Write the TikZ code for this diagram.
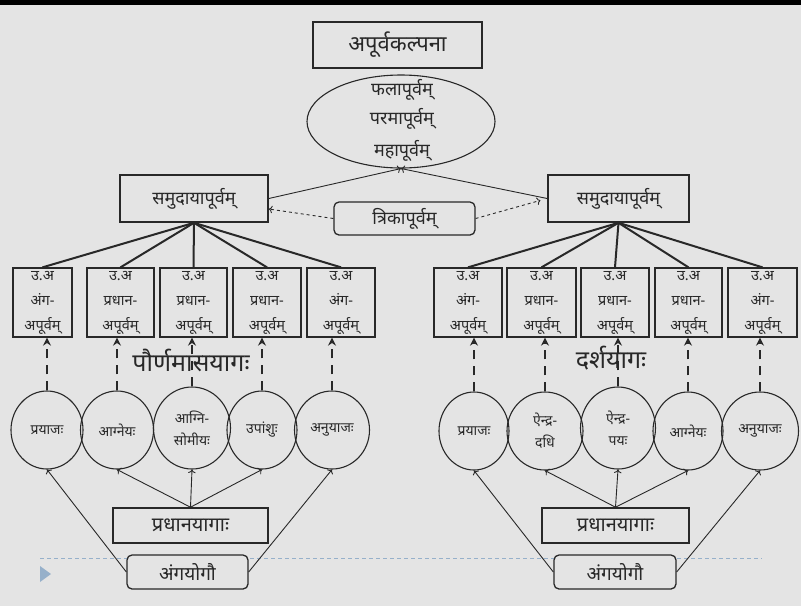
\documentclass[tikz,border=0pt]{standalone}
\usepackage{fontspec}
\setmainfont{Noto Sans}[Script=Devanagari]
\usetikzlibrary{shapes.geometric,arrows.meta}

\definecolor{slide}{RGB}{228,228,228}
\definecolor{ink}{RGB}{40,40,40}
\definecolor{rule}{RGB}{150,176,202}

\begin{document}
\begin{tikzpicture}[x=1pt,y=-1pt,
  box/.style={draw=ink,line width=1.6pt,fill=slide,inner sep=0pt,text=ink,font=\fontsize{18}{20}\selectfont},
  ubox/.style={draw=ink,line width=1.3pt,fill=slide,inner sep=0pt,minimum height=69pt,text=ink,align=center,font=\fontsize{14.5}{25}\selectfont},
  yaga/.style={draw=ink,line width=1.1pt,ellipse,inner sep=0pt,minimum height=78pt,text=ink,align=center,font=\fontsize{14}{22}\selectfont},
  trunk/.style={draw=ink,line width=2pt},
  dasharrow/.style={draw=ink,line width=2.4pt,dash pattern=on 9pt off 7pt,-{Stealth[length=8pt,width=8pt]}},
  thin/.style={draw=ink,line width=0.9pt,->},
  title/.style={text=ink,font=\fontsize{25}{28}\selectfont}
]
\useasboundingbox (0,0) rectangle (801,606);
\fill[slide] (0,0) rectangle (801,606);
\fill[black] (0,0) rectangle (801,5);

% slide rule and marker
\draw[rule,line width=0.8pt,dash pattern=on 4pt off 3pt] (40,558) -- (762,558);
\fill[rule] (40,566) -- (51,574) -- (40,582) -- cycle;

% top
\node[box,minimum width=169pt,minimum height=46pt,font=\fontsize{22}{24}\selectfont] (kalpana) at (397.5,45) {अपूर्वकल्पना};
\node[draw=ink,line width=1.1pt,ellipse,minimum width=188pt,minimum height=93pt,inner sep=0pt] (phala) at (401,121.5) {};
\node[text=ink,font=\fontsize{18}{20}\selectfont] (t1) at (402,90) {फलापूर्वम्};
\node[text=ink,font=\fontsize{18}{20}\selectfont] (t2) at (402,119) {परमापूर्वम्};
\node[text=ink,font=\fontsize{18}{20}\selectfont] (t3) at (402,151) {महापूर्वम्};

\node[box,minimum width=148pt,minimum height=47pt] (lsam) at (194,198.5) {समुदायापूर्वम्};
\node[box,minimum width=141pt,minimum height=47pt] (rsam) at (618.5,198.5) {समुदायापूर्वम्};
\node[box,rounded corners=5pt,line width=1.3pt,minimum width=141pt,minimum height=33pt] (trika) at (404.5,218.5) {त्रिकापूर्वम्};

\draw[thin] (lsam.east) -- (phala.south);
\draw[thin] (rsam.west) -- (phala.south);
\draw[thin,dashed] (trika.west) -- (lsam.-8);
\draw[thin,dashed,shorten >=7pt] (trika.east) -- (rsam.west);

% paurnamasa side
\node[ubox,minimum width=59pt] (lb1) at (42.5,302.5) {उ.अ\\अंग-\\अपूर्वम्};
\node[ubox,minimum width=67pt] (lb2) at (120.5,302.5) {उ.अ\\प्रधान-\\अपूर्वम्};
\node[ubox,minimum width=67pt] (lb3) at (193.5,302.5) {उ.अ\\प्रधान-\\अपूर्वम्};
\node[ubox,minimum width=68pt] (lb4) at (267,302.5) {उ.अ\\प्रधान-\\अपूर्वम्};
\node[ubox,minimum width=68pt] (lb5) at (341,302.5) {उ.अ\\अंग-\\अपूर्वम्};

\draw[trunk] (lsam.south) -- (lb1.north);
\draw[trunk] (lsam.south) -- (lb2.north);
\draw[trunk] (lsam.south) -- (lb3.north);
\draw[trunk] (lsam.south) -- (lb4.north);
\draw[trunk] (lsam.south) -- (lb5.north);

\node[yaga,minimum width=72pt] (lc1) at (47,430) {प्रयाजः};
\node[yaga,minimum width=73pt] (lc2) at (117,430) {आग्नेयः};
\node[yaga,minimum width=77pt,minimum height=82pt] (lc3) at (192,428) {आग्नि-\\सोमीयः};
\node[yaga,minimum width=70pt] (lc4) at (262,430) {उपांशुः};
\node[yaga,minimum width=75pt] (lc5) at (332,430) {अनुयाजः};

\draw[dasharrow] (lc1.north) -- (lc1.north |- lb1.south);
\draw[dasharrow] (lc2.north) -- (lc2.north |- lb2.south);
\draw[dasharrow] (lc3.north) -- (lc3.north |- lb3.south);
\draw[dasharrow] (lc4.north) -- (lc4.north |- lb4.south);
\draw[dasharrow] (lc5.north) -- (lc5.north |- lb5.south);

\node[title] (paurna) at (191,360) {पौर्णमासयागः};

\node[box,minimum width=155pt,minimum height=35pt,font=\fontsize{20}{22}\selectfont] (lpra) at (190.5,525.5) {प्रधानयागाः};
\node[box,rounded corners=5pt,line width=1.3pt,minimum width=121pt,minimum height=34pt,font=\fontsize{19}{21}\selectfont] (langa) at (187.5,572) {अंगयोगौ};

\draw[thin] (lpra.north) -- (lc2.south);
\draw[thin] (lpra.north) -- (lc3.south);
\draw[thin] (lpra.north) -- (lc4.south);
\draw[thin] (langa.west) -- (lc1.south);
\draw[thin] (langa.east) -- (lc5.south);

% darsa side
\node[ubox,minimum width=68pt] (rb1) at (468,302.5) {उ.अ\\अंग-\\अपूर्वम्};
\node[ubox,minimum width=69pt] (rb2) at (541.5,302.5) {उ.अ\\प्रधान-\\अपूर्वम्};
\node[ubox,minimum width=68pt] (rb3) at (615,302.5) {उ.अ\\प्रधान-\\अपूर्वम्};
\node[ubox,minimum width=67pt] (rb4) at (688.5,302.5) {उ.अ\\प्रधान-\\अपूर्वम्};
\node[ubox,minimum width=69pt] (rb5) at (762.5,302.5) {उ.अ\\अंग-\\अपूर्वम्};

\draw[trunk] (rsam.south) -- (rb1.north);
\draw[trunk] (rsam.south) -- (rb2.north);
\draw[trunk] (rsam.south) -- (rb3.north);
\draw[trunk] (rsam.south) -- (rb4.north);
\draw[trunk] (rsam.south) -- (rb5.north);

\node[yaga,minimum width=70pt] (rc1) at (474,431) {प्रयाजः};
\node[yaga,minimum width=76pt] (rc2) at (545,431) {ऐन्द्र-\\दधि};
\node[yaga,minimum width=75pt,minimum height=82pt] (rc3) at (618,428) {ऐन्द्र-\\पयः};
\node[yaga,minimum width=70pt] (rc4) at (688,431) {आग्नेयः};
\node[yaga,minimum width=77pt] (rc5) at (760,431) {अनुयाजः};

\draw[dasharrow] (rc1.north) -- (rc1.north |- rb1.south);
\draw[dasharrow] (rc2.north) -- (rc2.north |- rb2.south);
\draw[dasharrow] (rc3.north) -- (rc3.north |- rb3.south);
\draw[dasharrow] (rc4.north) -- (rc4.north |- rb4.south);
\draw[dasharrow] (rc5.north) -- (rc5.north |- rb5.south);

\node[title] (darsa) at (611,358) {दर्शयागः};

\node[box,minimum width=147pt,minimum height=35pt,font=\fontsize{20}{22}\selectfont] (rpra) at (615.5,525.5) {प्रधानयागाः};
\node[box,rounded corners=5pt,line width=1.3pt,minimum width=122pt,minimum height=34pt,font=\fontsize{19}{21}\selectfont] (ranga) at (615,572) {अंगयोगौ};

\draw[thin] (rpra.north) -- (rc2.south);
\draw[thin] (rpra.north) -- (rc3.south);
\draw[thin] (rpra.north) -- (rc4.south);
\draw[thin] (ranga.west) -- (rc1.south);
\draw[thin] (ranga.east) -- (rc5.south);
\end{tikzpicture}
\end{document}
